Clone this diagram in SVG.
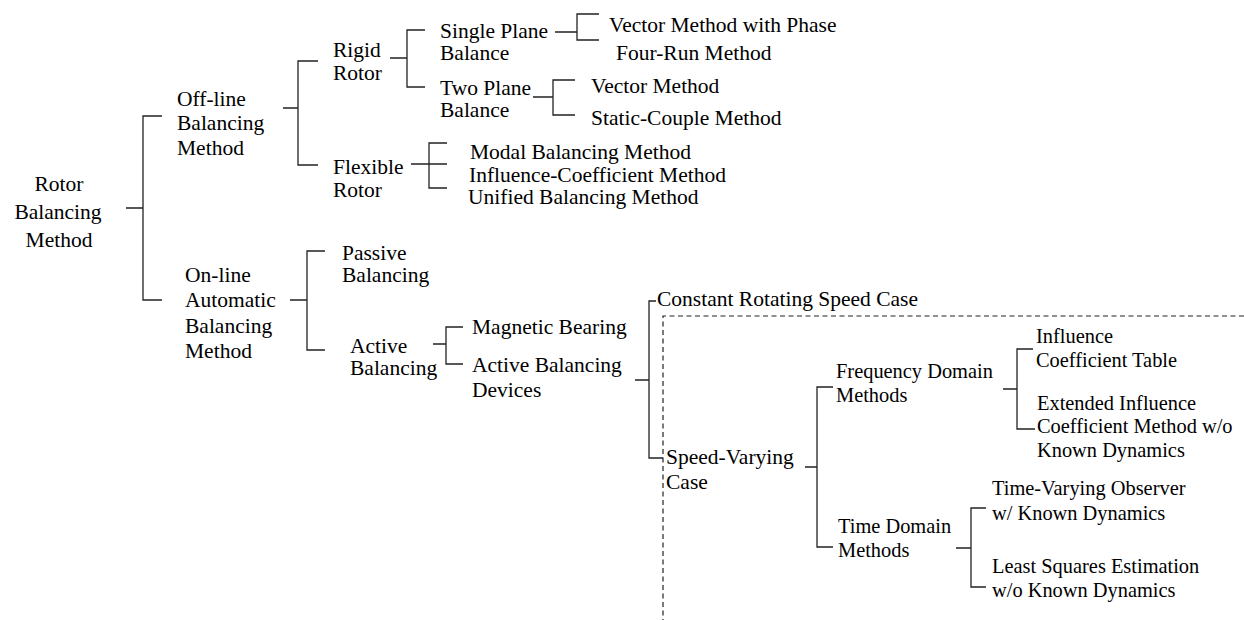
<svg xmlns="http://www.w3.org/2000/svg" width="1244" height="620" viewBox="0 0 1244 620">
<rect width="1244" height="620" fill="#fff"/>
<g id="connectors" fill="none" stroke="#222" stroke-width="1.3">
<path d="M126,208H143M162,116H143V300H162"/>
<path d="M283,108H298M318,61H298V165H318"/>
<path d="M390,58H407M425,30H407V87H425"/>
<path d="M555,32H577M599,14H577V40H599"/>
<path d="M533,97H553M575,80H553V115H575"/>
<path d="M411,164H447M447,143H429V188H447"/>
<path d="M290,300H307M325,251H307V350H325"/>
<path d="M433,344H446M463,327H446V364H463"/>
<path d="M635,380H649M656,301H649V458H663"/>
<path d="M805,467H817M833,387H817V547H833"/>
<path d="M1003,389H1017M1033,349H1017V429H1035"/>
<path d="M956,548H971M986,508H971V587H986"/>
<path d="M1244,316H663V620" stroke-width="1.2" stroke-dasharray="5 3.5"/>
</g>
<g id="root" text-anchor="middle"><text font-family="Times New Roman" font-size="21.5" x="59" y="191">Rotor</text><text font-family="Times New Roman" font-size="21.5" x="58" y="219">Balancing</text><text font-family="Times New Roman" font-size="21.5" x="59" y="247">Method</text></g>
<g id="offline"><text font-family="Times New Roman" font-size="21.5" x="177" y="106">Off-line</text><text font-family="Times New Roman" font-size="21.5" x="177" y="130">Balancing</text><text font-family="Times New Roman" font-size="21.5" x="177" y="155">Method</text></g>
<g id="rigid"><text font-family="Times New Roman" font-size="21.5" x="333" y="57">Rigid</text><text font-family="Times New Roman" font-size="21.5" x="333" y="80">Rotor</text></g>
<g id="flexible"><text font-family="Times New Roman" font-size="21.5" x="333" y="174">Flexible</text><text font-family="Times New Roman" font-size="21.5" x="333" y="197">Rotor</text></g>
<g id="single-plane"><text font-family="Times New Roman" font-size="21.5" x="440" y="38">Single Plane</text><text font-family="Times New Roman" font-size="21.5" x="440" y="60">Balance</text></g>
<g id="two-plane"><text font-family="Times New Roman" font-size="21.5" x="440" y="95">Two Plane</text><text font-family="Times New Roman" font-size="21.5" x="440" y="117">Balance</text></g>
<g id="vector-phase"><text font-family="Times New Roman" font-size="21.5" x="609" y="32">Vector Method with Phase</text></g>
<g id="four-run"><text font-family="Times New Roman" font-size="21.5" x="616" y="60">Four-Run Method</text></g>
<g id="vector"><text font-family="Times New Roman" font-size="21.5" x="591" y="93">Vector Method</text></g>
<g id="static-couple"><text font-family="Times New Roman" font-size="21.5" x="591" y="125">Static-Couple Method</text></g>
<g id="modal"><text font-family="Times New Roman" font-size="21.5" x="470" y="159">Modal Balancing Method</text></g>
<g id="influence-coef"><text font-family="Times New Roman" font-size="21.5" x="469" y="182">Influence-Coefficient Method</text></g>
<g id="unified"><text font-family="Times New Roman" font-size="21.5" x="468" y="204">Unified Balancing Method</text></g>
<g id="online"><text font-family="Times New Roman" font-size="21.5" x="185" y="282">On-line</text><text font-family="Times New Roman" font-size="21.5" x="185" y="307">Automatic</text><text font-family="Times New Roman" font-size="21.5" x="185" y="333">Balancing</text><text font-family="Times New Roman" font-size="21.5" x="185" y="358">Method</text></g>
<g id="passive"><text font-family="Times New Roman" font-size="21.5" x="342" y="260">Passive</text><text font-family="Times New Roman" font-size="21.5" x="342" y="282">Balancing</text></g>
<g id="active"><text font-family="Times New Roman" font-size="21.5" x="350" y="353">Active</text><text font-family="Times New Roman" font-size="21.5" x="350" y="375">Balancing</text></g>
<g id="magnetic"><text font-family="Times New Roman" font-size="21.5" x="472" y="334">Magnetic Bearing</text></g>
<g id="abd"><text font-family="Times New Roman" font-size="21.5" x="472" y="372">Active Balancing</text><text font-family="Times New Roman" font-size="21.5" x="472" y="397">Devices</text></g>
<g id="constant"><text font-family="Times New Roman" font-size="21.5" x="657" y="306">Constant Rotating Speed Case</text></g>
<g id="speed-varying"><text font-family="Times New Roman" font-size="21.5" x="666" y="464">Speed-Varying</text><text font-family="Times New Roman" font-size="21.5" x="666" y="489">Case</text></g>
<g id="frequency"><text font-family="Times New Roman" font-size="20.4" x="836" y="378">Frequency Domain</text><text font-family="Times New Roman" font-size="20.4" x="836" y="402">Methods</text></g>
<g id="time"><text font-family="Times New Roman" font-size="20.4" x="838" y="533">Time Domain</text><text font-family="Times New Roman" font-size="20.4" x="838" y="557">Methods</text></g>
<g id="ict"><text font-family="Times New Roman" font-size="20.4" x="1036" y="343">Influence</text><text font-family="Times New Roman" font-size="20.4" x="1036" y="367">Coefficient Table</text></g>
<g id="eic"><text font-family="Times New Roman" font-size="20.4" x="1037" y="410">Extended Influence</text><text font-family="Times New Roman" font-size="20.4" x="1037" y="433">Coefficient Method w/o</text><text font-family="Times New Roman" font-size="20.4" x="1037" y="457">Known Dynamics</text></g>
<g id="tvo"><text font-family="Times New Roman" font-size="20.4" x="992" y="495">Time-Varying Observer</text><text font-family="Times New Roman" font-size="20.4" x="992" y="520">w/ Known Dynamics</text></g>
<g id="lse"><text font-family="Times New Roman" font-size="20.4" x="992" y="573">Least Squares Estimation</text><text font-family="Times New Roman" font-size="20.4" x="992" y="597">w/o Known Dynamics</text></g>
</svg>
